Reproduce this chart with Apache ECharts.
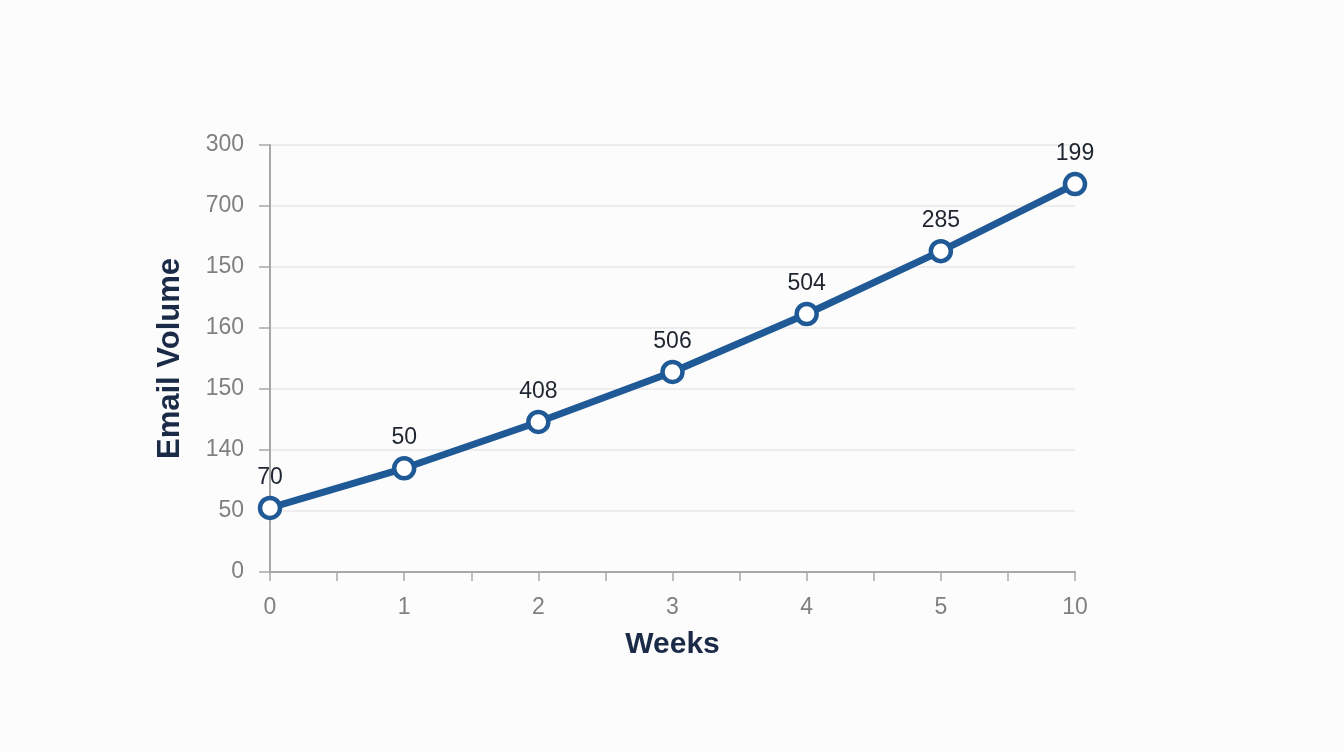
<!DOCTYPE html>
<html>
<head>
<meta charset="utf-8">
<script src="https://cdn.jsdelivr.net/npm/echarts@6/dist/echarts.min.js"></script>
<style>
  html, body { margin: 0; padding: 0; background: #fcfcfc; }
  #chart { width: 1344px; height: 752px; }
</style>
</head>
<body>
<div id="chart"></div>
<script>
(() => {
    'use strict'

    // x tick labels (one per point) and y tick labels (one per gridline, bottom to top)
    const weekLabels = ['0', '1', '2', '3', '4', '5', '10']
    const yTickLabels = ['0', '50', '140', '150', '160', '150', '700', '300']

    // point heights, measured in gridline steps
    const volumePos = [1.05, 1.70, 2.46, 3.28, 4.23, 5.26, 6.36]
    // text printed above each point
    const volumeLabels = ['70', '50', '408', '506', '504', '285', '199']

    const axisGray = '#a8a8a8'
    const textGray = '#808080'
    const navy = '#1b2a47'
    const lineBlue = '#1f5a96'
    const fontFamily = '"Liberation Sans", Arial, sans-serif'

    const chart = echarts.init(document.getElementById('chart'))

    chart.setOption({
        backgroundColor: '#fcfcfc',
        animation: false,
        textStyle: { fontFamily },
        grid: { left: 270, right: 269, top: 145, bottom: 180 },
        xAxis: {
            type: 'value',
            min: 0,
            max: weekLabels.length - 1,
            interval: 1,
            name: 'Weeks',
            nameLocation: 'middle',
            nameGap: 58,
            nameTextStyle: { color: navy, fontSize: 30, fontWeight: 'bold', fontFamily },
            axisLine: { show: true, lineStyle: { color: axisGray, width: 2 } },
            axisTick: { show: true, length: 9, lineStyle: { color: axisGray, width: 1.5 } },
            minorTick: { show: true, splitNumber: 2, length: 9, lineStyle: { color: axisGray, width: 1.5 } },
            splitLine: { show: false },
            axisLabel: {
                margin: 24,
                color: textGray,
                fontSize: 23,
                formatter: v => weekLabels[Math.round(v)] ?? ''
            }
        },
        yAxis: {
            type: 'value',
            min: 0,
            max: yTickLabels.length - 1,
            interval: 1,
            name: 'Email Volume',
            nameLocation: 'middle',
            nameGap: 84,
            nameRotate: 90,
            nameTextStyle: { color: navy, fontSize: 31, fontWeight: 'bold', fontFamily },
            axisLine: { show: true, lineStyle: { color: axisGray, width: 2 } },
            axisTick: { show: true, length: 11, lineStyle: { color: axisGray, width: 1.5 } },
            splitLine: { show: true, lineStyle: { color: '#e9e9e9', width: 1.5 } },
            axisLabel: {
                margin: 26,
                color: textGray,
                fontSize: 23,
                formatter: v => yTickLabels[Math.round(v)] ?? ''
            }
        },
        series: [{
            type: 'line',
            data: volumePos.map((y, i) => [i, y]),
            symbol: 'circle',
            symbolSize: 20,
            showSymbol: true,
            lineStyle: { color: lineBlue, width: 7 },
            itemStyle: { color: '#ffffff', borderColor: lineBlue, borderWidth: 4.5 },
            label: {
                show: true,
                position: 'top',
                distance: 7,
                color: '#1e2530',
                fontSize: 23,
                formatter: p => volumeLabels[p.dataIndex]
            },
            z: 5
        }]
    })
})()
</script>
</body>
</html>
